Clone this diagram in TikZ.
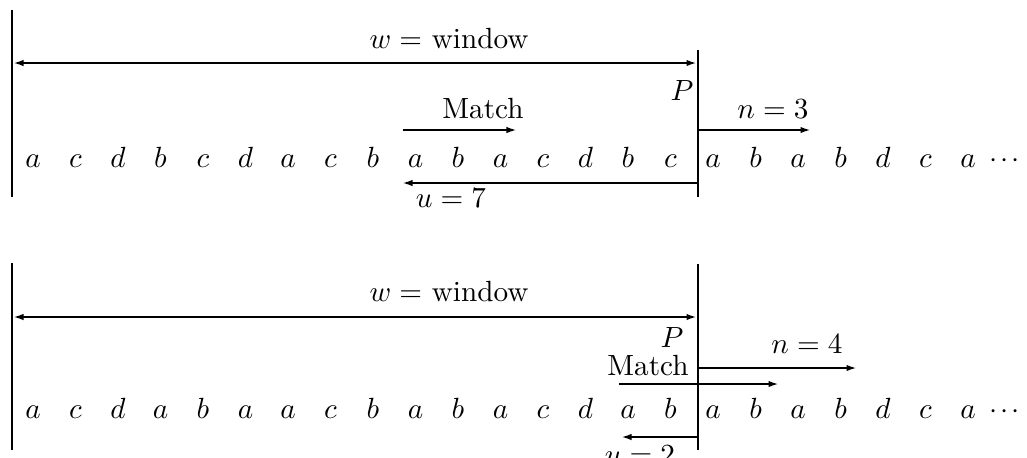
\documentclass[tikz,border=0pt]{standalone}
\usetikzlibrary{arrows.meta}
\begin{document}
\begin{tikzpicture}[x=0.3425pt,y=-0.3425pt,
  line width=0.9pt,
  arr/.style={-{Latex[length=3.6pt,width=2.2pt]}},
  darr/.style={{Latex[length=3.6pt,width=2.2pt]}-{Latex[length=3.6pt,width=2.2pt]}},
  lab/.style={anchor=base,inner sep=0pt,font=\fontsize{10}{12}\selectfont},
  sym/.style={anchor=base,inner sep=0pt,font=\fontsize{10}{12}\selectfont},
  dots/.style={anchor=base west,inner sep=0pt,font=\fontsize{10}{12}\selectfont}]
\useasboundingbox (0,0) rectangle (1027,457);
% ---------- top panel ----------
\coordinate (LtA) at (12,10); \coordinate (LtB) at (12,197);
\coordinate (PtA) at (698,50); \coordinate (PtB) at (698,197);
\draw (LtA) -- (LtB);
\draw (PtA) -- (PtB);
\coordinate (WtL) at (13,63); \coordinate (WtR) at (697,63);
\draw[darr] (WtL) -- (WtR);
\node[lab] (wt) at (449,48) {$w=$ window};
\node[lab] (Pt) at (682,100) {$P$};
\node[lab] (mt) at (483,118) {Match};
\coordinate (MtA) at (403,130); \coordinate (MtB) at (517,130);
\draw[arr] (MtA) -- (MtB);
\node[lab] (nt) at (773,118) {$n=3$};
\coordinate (NtA) at (698,130); \coordinate (NtB) at (811,130);
\draw[arr] (NtA) -- (NtB);
\coordinate (UtA) at (698,183); \coordinate (UtB) at (402,183);
\draw[arr] (UtA) -- (UtB);
\node[lab] (ut) at (451,207) {$u=7$};
\foreach \c [count=\i from 0] in {a,c,d,b,c,d,a,c,b,a,b,a,c,d,b,c,a,b,a,b,d,c,a}
  \node[sym] (t\i) at ({33+42.5*\i},167) {$\c$};
\node[dots] (tdots) at (988,167) {$\cdot$\hspace{1pt}$\cdot$\hspace{1pt}$\cdot$};
% ---------- bottom panel ----------
\coordinate (LbA) at (12,263); \coordinate (LbB) at (12,450);
\coordinate (PbA) at (698,264); \coordinate (PbB) at (698,450);
\draw (LbA) -- (LbB);
\draw (PbA) -- (PbB);
\coordinate (WbL) at (13,317); \coordinate (WbR) at (697,317);
\draw[darr] (WbL) -- (WbR);
\node[lab] (wb) at (449,301) {$w=$ window};
\node[lab] (Pb) at (672,347) {$P$};
\node[lab] (mb) at (648,375) {Match};
\coordinate (NbA) at (698,368); \coordinate (NbB) at (857,368);
\draw[arr] (NbA) -- (NbB);
\node[lab] (nb) at (807,353) {$n=4$};
\coordinate (MbA) at (619,384); \coordinate (MbB) at (779,384);
\draw[arr] (MbA) -- (MbB);
\coordinate (UbA) at (698,437); \coordinate (UbB) at (621,437);
\draw[arr] (UbA) -- (UbB);
\node[lab] (ub) at (640,464) {$u=2$};
\foreach \c [count=\i from 0] in {a,c,d,a,b,a,a,c,b,a,b,a,c,d,a,b,a,b,a,b,d,c,a}
  \node[sym] (b\i) at ({33+42.5*\i},418) {$\c$};
\node[dots] (bdots) at (988,418) {$\cdot$\hspace{1pt}$\cdot$\hspace{1pt}$\cdot$};
\end{tikzpicture}
\end{document}
